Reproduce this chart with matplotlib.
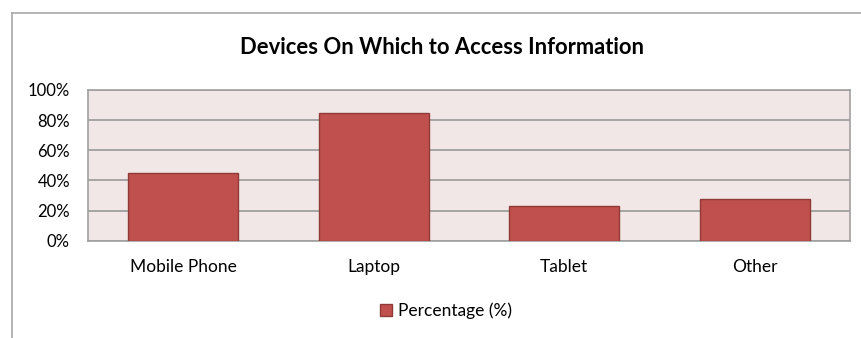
import matplotlib
matplotlib.use("Agg")
import matplotlib.pyplot as plt
from matplotlib.lines import Line2D
from matplotlib.patches import Patch

plt.rcParams['font.family'] = ['Lato', 'DejaVu Sans']

devices = ["Mobile Phone", "Laptop", "Tablet", "Other"]
percentage = [45, 85, 23, 28]
yticks = [0, 20, 40, 60, 80, 100]
ytick_labels = ["0%", "20%", "40%", "60%", "80%", "100%"]

fig = plt.figure(figsize=(8.61, 3.38), dpi=100)
W, H = 861, 338
ax = fig.add_axes([88 / W, 1 - 240.7 / H, (850 - 88) / W, (240.7 - 90) / H])

ax.set_facecolor("#F2E7E7")
ax.bar(range(len(devices)), percentage, width=0.58, color="#C0504D",
       edgecolor="#8E3B38", linewidth=1, zorder=3)
ax.set_xlim(-0.5, len(devices) - 0.5)
ax.set_ylim(0, 100)
ax.set_yticks(yticks)
ax.set_yticklabels(ytick_labels, fontsize=12)
ax.set_xticks(range(len(devices)))
ax.set_xticklabels(devices, fontsize=12.5)
ax.tick_params(axis='y', length=0, pad=13)
ax.tick_params(axis='x', length=0, pad=13)
ax.grid(axis='y', color="#A0A0A0", linewidth=1.3, zorder=1)
for s in ax.spines.values():
    s.set_color("#A0A0A0")
    s.set_linewidth(1.2)

fig.text(442 / W, 1 - 47 / H, "Devices On Which to Access Information",
         ha="center", va="center", fontsize=15.8, fontweight="bold")

handle = Patch(facecolor="#C0504D", edgecolor="#8E3B38", label="Percentage (%)")
fig.legend(handles=[handle], loc="center", bbox_to_anchor=(446 / W, 1 - 311 / H),
           frameon=False, fontsize=12.5, handlelength=0.7, handleheight=0.7,
           handletextpad=0.3)

# outer chart frame
fig.add_artist(Line2D([12 / W, 1], [1 - 13 / H, 1 - 13 / H], color="#A8A8A8", lw=1.2))
fig.add_artist(Line2D([12 / W, 12 / W], [0, 1 - 13 / H], color="#A8A8A8", lw=1.2))

fig.savefig("out.png", dpi=100)
